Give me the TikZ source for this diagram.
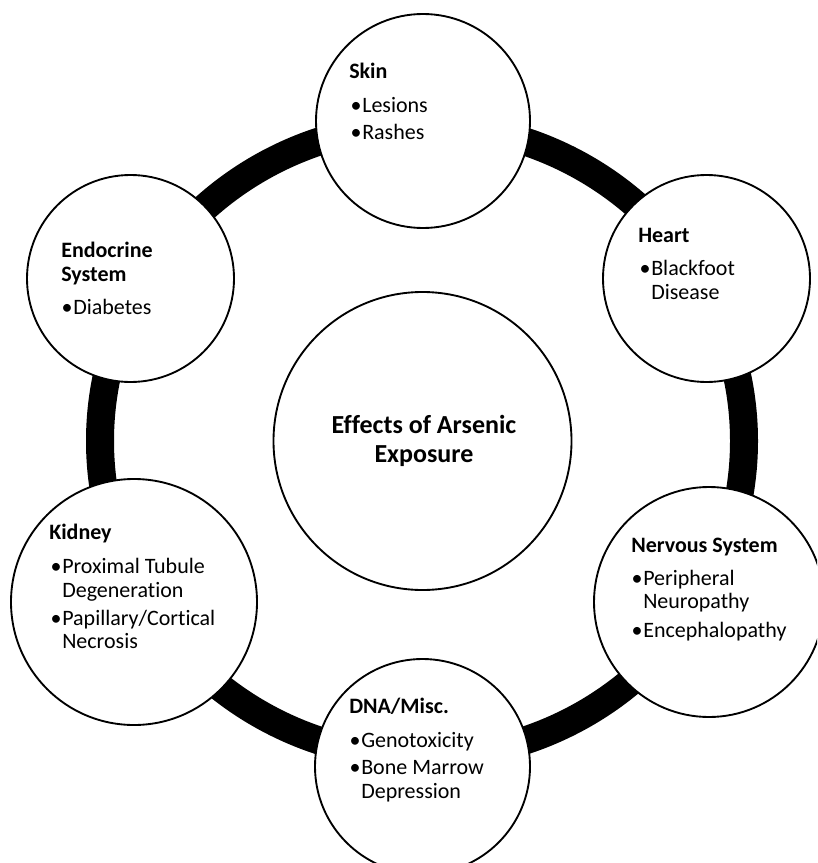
\documentclass[tikz,border=0pt]{standalone}
\usepackage{fontspec}
\setmainfont[Ligatures=NoCommon]{Carlito}
\newcommand\bul{\makebox[7.5pt][l]{\kern-1.2pt\textbullet}}
\begin{document}
\begin{tikzpicture}[x=0.75pt,y=-0.75pt,
  sat/.style={circle,draw=black,fill=white,line width=1.4pt,inner sep=0pt},
  ring/.style={draw=black,line width=21pt},
  ttl/.style={anchor=base west,inner sep=0pt,font=\bfseries\fontsize{16.5pt}{18pt}\selectfont},
  itm/.style={anchor=base west,inner sep=0pt,font=\fontsize{16.5pt}{18pt}\selectfont},
  ctxt/.style={anchor=base,inner sep=0pt,font=\bfseries\fontsize{19.5pt}{21pt}\selectfont}]
\useasboundingbox (0,0) rectangle (817,863);
\fill[white] (0,0) rectangle (817,863);
\clip (0,0) rectangle (817,863);
% ring
\coordinate (ringc) at (422,441);
\draw[ring] (ringc) ellipse [x radius=241.5pt, y radius=237pt];
% circles
\node[sat,minimum size=223.5pt] (center) at (422.5,441) {};
\node[sat,minimum size=160.5pt] (skin) at (423,121) {};
\node[sat,minimum size=155.25pt] (heart) at (706.5,278.5) {};
\node[sat,minimum size=172.5pt] (nerv) at (709,602) {};
\node[sat,minimum size=161.25pt] (dna) at (422.5,766.5) {};
\node[sat,minimum size=184.5pt] (kidney) at (134,602) {};
\node[sat,minimum size=155.25pt] (endo) at (130.5,278.5) {};
% center text
\node[ctxt] (c1) at (424,433) {Effects of Arsenic};
\node[ctxt] (c2) at (424,462) {Exposure};
% skin
\node[ttl] (skinT) at (349,79) {Skin};
\node[itm] (skin1) at (352,113) {\bul Lesions};
\node[itm] (skin2) at (352,140) {\bul Rashes};
% heart
\node[ttl] (heartT) at (638,242) {Heart};
\node[itm] (heart1) at (641,275) {\bul Blackfoot};
\node[itm] (heart2) at (651,299) {Disease};
% nervous
\node[ttl] (nervT) at (631,552) {Nervous System};
\node[itm] (nerv1) at (633,585) {\bul Peripheral};
\node[itm] (nerv2) at (643,608) {Neuropathy};
\node[itm] (nerv3) at (633,637) {\bul Encephalopathy};
% dna
\node[ttl] (dnaT) at (349,713) {DNA/Misc.};
\node[itm] (dna1) at (351,747) {\bul Genotoxicity};
\node[itm] (dna2) at (351,774) {\bul Bone Marrow};
\node[itm] (dna3) at (361,798) {Depression};
% kidney
\node[ttl] (kidT) at (49,539) {Kidney};
\node[itm] (kid1) at (52,573) {\bul Proximal Tubule};
\node[itm] (kid2) at (62,597) {Degeneration};
\node[itm] (kid3) at (52,625) {\bul Papillary/Cortical};
\node[itm] (kid4) at (62,648) {Necrosis};
% endocrine
\node[ttl] (endoT) at (61,257) {Endocrine};
\node[ttl] (endoT2) at (61,281) {System};
\node[itm] (endo1) at (63,314) {\bul Diabetes};
\end{tikzpicture}
\end{document}
